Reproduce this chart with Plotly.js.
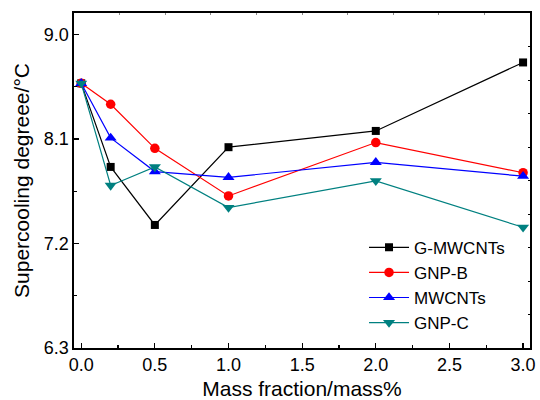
<!DOCTYPE html>
<html>
<head>
<meta charset="utf-8">
<script src="https://cdn.plot.ly/plotly-3.0.1.min.js"></script>
<style>html,body{margin:0;padding:0;background:#fff;}#chart{width:540px;height:400px;}</style>
</head>
<body>
<div id="chart"></div>
<script>
const massFraction = [0, 0.2, 0.5, 1.0, 2.0, 3.0];
const seriesNames = ["G-MWCNTs", "GNP-B", "MWCNTs", "GNP-C"];
const gMwcnts = [8.58, 7.86, 7.36, 8.03, 8.17, 8.76];
const gnpB    = [8.58, 8.40, 8.02, 7.61, 8.07, 7.81];
const mwcnts  = [8.58, 8.11, 7.82, 7.77, 7.90, 7.78];
const gnpC    = [8.58, 7.70, 7.86, 7.51, 7.74, 7.34];
const xTickVals = [0, 0.5, 1.0, 1.5, 2.0, 2.5, 3.0];
const xTickText = ["0.0", "0.5", "1.0", "1.5", "2.0", "2.5", "3.0"];
const yTickVals = [6.3, 7.2, 8.1, 9.0];
const yTickText = ["6.3", "7.2", "8.1", "9.0"];

const seriesValues = [gMwcnts, gnpB, mwcnts, gnpC];
const colors = ["#000000", "#ff0000", "#0000ff", "#008080"];
const symbols = ["square", "circle", "triangle-up", "triangle-down"];
const sizes = [8, 9.5, 10.5, 10.5];

const FONT = "Liberation Sans, Arial, Helvetica, sans-serif";

const traces = seriesNames.map((name, i) => ({
  x: massFraction,
  y: seriesValues[i],
  name: name,
  type: "scatter",
  mode: "lines+markers",
  line: {color: colors[i], width: 1.2},
  marker: {symbol: symbols[i], size: sizes[i], color: colors[i], line: {width: 0}},
  cliponaxis: false
}));
// empty helper trace so the top/right frame axes are drawn
traces.push({x: [], y: [], xaxis: "x2", yaxis: "y2", showlegend: false, hoverinfo: "skip", type: "scatter", mode: "markers"});

const layout = {
  width: 540, height: 400,
  margin: {l: 74, r: 10, t: 13, b: 52, pad: 0},
  paper_bgcolor: "#fff", plot_bgcolor: "#fff",
  font: {family: FONT, size: 18, color: "#000"},
  showlegend: true,
  legend: {
    x: 0.636, y: 0.353, xanchor: "left", yanchor: "top",
    bgcolor: "rgba(0,0,0,0)", borderwidth: 0,
    font: {family: FONT, size: 17, color: "#000"},
    tracegroupgap: 0, itemwidth: 40
  },
  xaxis: {
    range: [-0.049, 3.047],
    tickvals: xTickVals, ticktext: xTickText,
    ticks: "inside", ticklen: 5, tickwidth: 1.2, tickcolor: "#000",
    minor: {dtick: 0.25, tick0: 0, ticks: "inside", ticklen: 3, tickwidth: 1.2, tickcolor: "#000"},
    showline: true, linewidth: 1.6, linecolor: "#000", mirror: false,
    showgrid: false, zeroline: false,
    tickfont: {family: FONT, size: 18, color: "#000"},
    title: {text: "Mass fraction/mass%", font: {family: FONT, size: 21, color: "#000"}, standoff: 8}
  },
  yaxis: {
    range: [6.3, 9.186],
    tickvals: yTickVals, ticktext: yTickText,
    ticks: "inside", ticklen: 5, tickwidth: 1.2, tickcolor: "#000",
    minor: {dtick: 0.45, tick0: 6.3, ticks: "inside", ticklen: 3, tickwidth: 1.2, tickcolor: "#000"},
    showline: true, linewidth: 1.6, linecolor: "#000", mirror: false,
    showgrid: false, zeroline: false,
    tickfont: {family: FONT, size: 18, color: "#000"},
    title: {text: "Supercooling degreee/°C", font: {family: FONT, size: 21, color: "#000"}, standoff: 8}
  },
  xaxis2: {
    overlaying: "x", side: "top", anchor: "y2", range: [0, 10], dtick: 1, tick0: 0,
    ticks: "inside", ticklen: 2, tickwidth: 1, tickcolor: "#888",
    showticklabels: false, showline: true, linewidth: 1.6, linecolor: "#000",
    showgrid: false, zeroline: false, fixedrange: true
  },
  yaxis2: {
    overlaying: "y", side: "right", anchor: "x2", range: [0, 10], dtick: 1, tick0: 0,
    ticks: "inside", ticklen: 2.5, tickwidth: 1, tickcolor: "#000",
    showticklabels: false, showline: true, linewidth: 1.6, linecolor: "#000",
    showgrid: false, zeroline: false, fixedrange: true
  }
};

Plotly.newPlot("chart", traces, layout, {displayModeBar: false, staticPlot: true});
</script>
</body>
</html>
